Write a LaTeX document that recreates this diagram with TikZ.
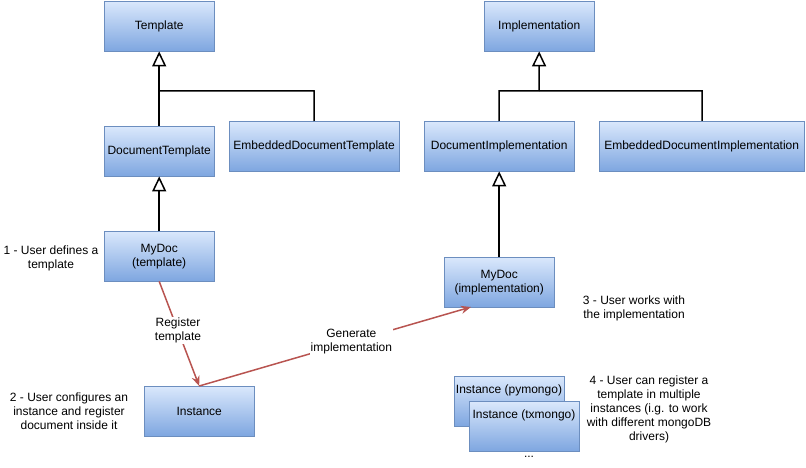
\documentclass[tikz,border=0pt]{standalone}
\usepackage{fontspec}
\setmainfont{Liberation Sans}
\usetikzlibrary{arrows.meta}
\definecolor{bord}{HTML}{6C8EBF}
\definecolor{topc}{HTML}{DAE8FC}
\definecolor{botc}{HTML}{7EA6E0}
\definecolor{redc}{HTML}{B85450}
\tikzset{
  box/.style={draw=bord,top color=topc,bottom color=botc,align=center,inner sep=0pt,font=\fontsize{12}{14}\selectfont,anchor=north west},
  inh/.style={-{Triangle[open,width=14pt,length=15pt]},line width=1.5pt},
  rel/.style={-{Stealth[length=10pt,width=8pt]},draw=redc,line width=1.5pt},
  lbl/.style={align=center,font=\fontsize{12}{14}\selectfont},
  elbl/.style={lbl,fill=white,inner sep=1pt}
}
\begin{document}
\begin{tikzpicture}[x=1pt,y=-1pt]
\useasboundingbox (0,0) rectangle (806,468);
\newcommand\bx[6]{\node[box,minimum width=#4-#2,minimum height=#5-#3] (#1) at (#2,#3) {#6};}
\bx{tpl}{104}{1}{214}{51}{Template}
\bx{impl}{484}{1}{594}{51}{Implementation}
\bx{dt}{104}{126}{214}{176}{DocumentTemplate}
\bx{edt}{229}{121}{399}{171}{EmbeddedDocumentTemplate}
\bx{di}{424}{121}{574}{171}{DocumentImplementation}
\bx{edi}{599}{121}{804}{171}{EmbeddedDocumentImplementation}
\bx{mdt}{104}{231}{214}{281}{MyDoc\\(template)}
\bx{mdi}{444}{257}{554}{307}{MyDoc\\(implementation)}
\bx{inst}{144}{386}{254}{436}{Instance}
\bx{ipy}{454}{376}{564}{426}{}
\node[lbl,anchor=north] at (509,381) {Instance (pymongo)};
\bx{itx}{469}{401}{579}{451}{}
\node[lbl,anchor=north] at (524,406) {Instance (txmongo)};
\draw[inh] (dt.north) -- (tpl.south);
\draw[line width=1.5pt] (edt.north) -- (314,91) -- (159,91);
\draw[inh] (mdt.north) -- (dt.south);
\draw[line width=1.5pt] (di.north) -- (499,91) -- (702,91) -- (702,121);
\draw[inh] (539,91) -- (impl.south);
\draw[inh] (mdi.north) -- (di.south);
\draw[rel] (mdt.south) -- node[elbl,pos=0.47]{Register\\template} (inst.north);
\coordinate (mdib) at (471,307);
\draw[rel] (inst.north) -- node[elbl,pos=0.56]{Generate\\implementation} (mdib);
\node[lbl] at (51,258) {1 - User defines a\\template};
\node[lbl] at (69,411) {2 - User configures an\\instance and register\\document inside it};
\node[lbl] at (634,308) {3 - User works with\\the implementation};
\node[lbl] at (649,409) {4 - User can register a\\template in multiple\\instances (i.g. to work\\with different mongoDB\\drivers)};
\node[lbl] at (529,457) {...};
\end{tikzpicture}
\end{document}
